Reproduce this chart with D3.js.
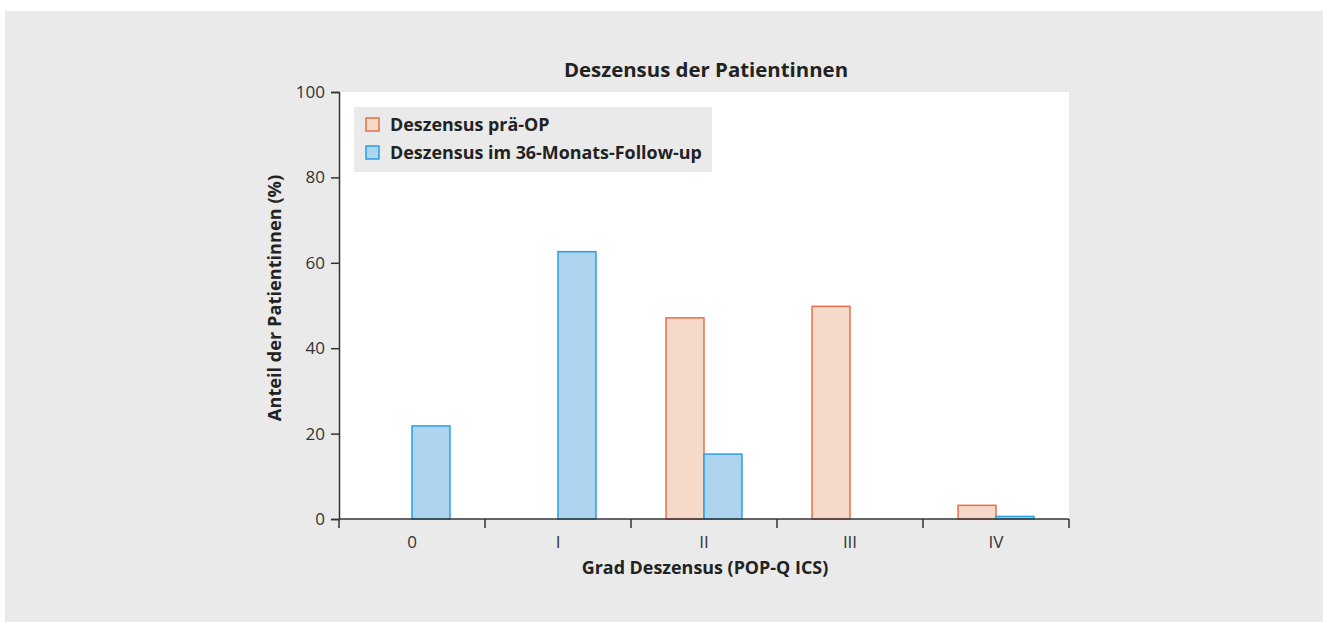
<!DOCTYPE html>
<html>
<head>
<meta charset="utf-8">
<script src="https://cdn.jsdelivr.net/npm/d3@7"></script>
<style>
  body { margin: 0; background: #fff; }
  text { font-family: "Open Sans", "Noto Sans", sans-serif; }
</style>
</head>
<body>
<div id="chart-area"></div>
<script>
const categories = ["0", "I", "II", "III", "IV"]
const seriesNames = ["Deszensus prä-OP", "Deszensus im 36-Monats-Follow-up"]
const praeOP = [0, 0, 47.1, 49.8, 3.2]
const followUp = [21.8, 62.6, 15.2, 0, 0.6]
const yTicks = [0, 20, 40, 60, 80, 100]

const colors = [
  { fill: "#f5d9c9", stroke: "#e86f48" },
  { fill: "#aed4f0", stroke: "#24a1e3" }
]

const svgWidth = 1323
const svgHeight = 622
const margin = { left: 339, right: 254, top: 92, bottom: 103 }
const chartWidth = svgWidth - margin.left - margin.right
const chartHeight = svgHeight - margin.top - margin.bottom

const svg = d3.select("#chart-area")
  .append("svg")
  .attr("width", svgWidth)
  .attr("height", svgHeight)

// grey panel
svg.append("rect")
  .attr("x", 5).attr("y", 11)
  .attr("width", svgWidth - 5).attr("height", svgHeight - 11)
  .attr("fill", "#e9eae9")

const chart = svg.append("g")
  .attr("transform", `translate(${margin.left},${margin.top})`)

chart.append("rect")
  .attr("width", chartWidth)
  .attr("height", chartHeight)
  .attr("fill", "#fff")

const xScale = d3.scaleBand()
  .domain(categories)
  .range([0, chartWidth])

const yScale = d3.scaleLinear()
  .domain([0, 100])
  .range([chartHeight, 0])

const barWidth = xScale.bandwidth() * 0.26

const rows = []
categories.forEach((c, i) => {
  rows.push({ cat: c, s: 0, v: praeOP[i] })
  rows.push({ cat: c, s: 1, v: followUp[i] })
})

chart.append("g")
  .selectAll("rect")
  .data(rows.filter(d => d.v > 0))
  .join("rect")
  .attr("x", d => xScale(d.cat) + xScale.bandwidth() / 2 + (d.s === 0 ? -barWidth : 0))
  .attr("y", d => yScale(d.v))
  .attr("width", barWidth)
  .attr("height", d => yScale(0) - yScale(d.v))
  .attr("fill", d => colors[d.s].fill)
  .attr("stroke", d => colors[d.s].stroke)
  .attr("stroke-width", 1.5)

// y axis
const yAxis = chart.append("g")
  .call(d3.axisLeft(yScale).tickValues(yTicks).tickSize(8).tickPadding(6))
yAxis.select(".domain").attr("stroke", "#333").attr("stroke-width", 1.5)
yAxis.selectAll(".tick line").attr("stroke", "#333").attr("stroke-width", 1.5)
yAxis.selectAll(".tick text")
  .attr("font-size", 17).attr("fill", "#333")
  .style("font-family", "'Open Sans', sans-serif")

// x axis: ticks at band boundaries
const xAxis = chart.append("g")
  .attr("transform", `translate(0,${chartHeight})`)
xAxis.append("line")
  .attr("x1", 0).attr("x2", chartWidth)
  .attr("stroke", "#333").attr("stroke-width", 1.5)
const bounds = categories.map(c => xScale(c)).concat([chartWidth])
xAxis.selectAll(".bt")
  .data(bounds)
  .join("line")
  .attr("x1", d => d).attr("x2", d => d)
  .attr("y1", 0).attr("y2", 9)
  .attr("stroke", "#333").attr("stroke-width", 1.5)
xAxis.selectAll(".lbl")
  .data(categories)
  .join("text")
  .attr("x", d => xScale(d) + xScale.bandwidth() / 2)
  .attr("y", 29)
  .attr("text-anchor", "middle")
  .attr("font-size", 17)
  .attr("fill", "#333")
  .text(d => d)

// titles
svg.append("text")
  .attr("x", 706).attr("y", 77)
  .attr("text-anchor", "middle")
  .attr("font-size", 20.4).attr("font-weight", 700)
  .attr("fill", "#222")
  .text("Deszensus der Patientinnen")

svg.append("text")
  .attr("x", 705).attr("y", 574)
  .attr("text-anchor", "middle")
  .attr("font-size", 17.9).attr("font-weight", 700)
  .attr("fill", "#222")
  .text("Grad Deszensus (POP-Q ICS)")

svg.append("text")
  .attr("transform", `translate(281,298) rotate(-90)`)
  .attr("text-anchor", "middle")
  .attr("font-size", 18.2).attr("font-weight", 700)
  .attr("fill", "#222")
  .text("Anteil der Patientinnen (%)")

// legend
const legend = svg.append("g").attr("transform", "translate(354,107)")
legend.append("rect")
  .attr("width", 358).attr("height", 65)
  .attr("fill", "#e9eae9")
const li = legend.selectAll(".li")
  .data(seriesNames)
  .join("g")
  .attr("transform", (d, i) => `translate(12,${11 + i * 28})`)
li.append("rect")
  .attr("width", 13).attr("height", 13)
  .attr("fill", (d, i) => colors[i].fill)
  .attr("stroke", (d, i) => colors[i].stroke)
  .attr("stroke-width", 1.5)
li.append("text")
  .attr("x", 24).attr("y", 13)
  .attr("font-size", 17.9).attr("font-weight", 700)
  .attr("fill", "#222")
  .text(d => d)
</script>
</body>
</html>
